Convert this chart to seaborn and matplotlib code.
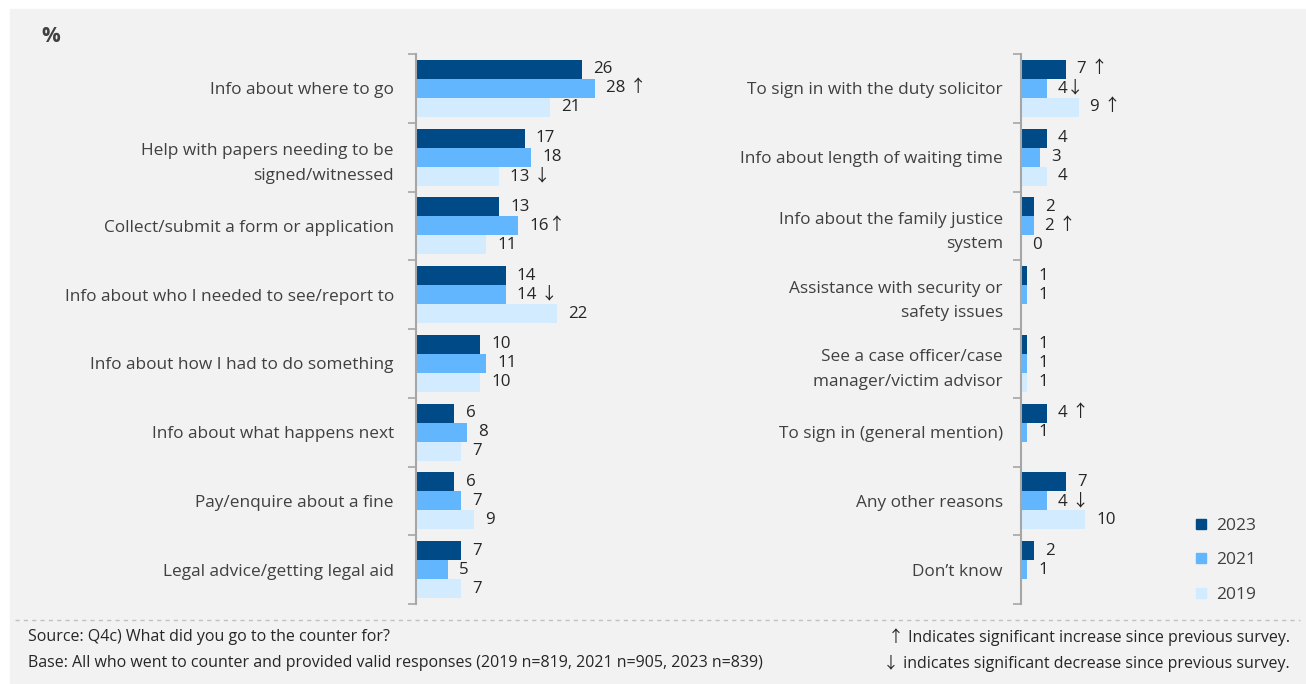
import numpy as np
import pandas as pd
import matplotlib
matplotlib.use("Agg")
import matplotlib.pyplot as plt
from matplotlib.lines import Line2D
from matplotlib.patches import Rectangle
from matplotlib.ticker import FixedLocator
import seaborn as sns

# ---- data -------------------------------------------------------------
years = ["2023", "2021", "2019"]
colors = ["#004b87", "#62b6fd", "#d3ebfe"]

left_cats = [
    "Info about where to go",
    "Help with papers needing to be\nsigned/witnessed",
    "Collect/submit a form or application",
    "Info about who I needed to see/report to",
    "Info about how I had to do something",
    "Info about what happens next",
    "Pay/enquire about a fine",
    "Legal advice/getting legal aid",
]
left_2023 = [26, 17, 13, 14, 10, 6, 6, 7]
left_2021 = [28, 18, 16, 14, 11, 8, 7, 5]
left_2019 = [21, 13, 11, 22, 10, 7, 9, 7]
left_sig_2023 = ["", "", "", "", "", "", "", ""]
left_sig_2021 = [" ↑", "", "↑", " ↓", "", "", "", ""]
left_sig_2019 = ["", " ↓", "", "", "", "", "", ""]

right_cats = [
    "To sign in with the duty solicitor",
    "Info about length of waiting time",
    "Info about the family justice\nsystem",
    "Assistance with security or\nsafety issues",
    "See a case officer/case\nmanager/victim advisor",
    "To sign in (general mention)",
    "Any other reasons",
    "Don\u2019t know",
]
right_2023 = [7, 4, 2, 1, 1, 4, 7, 2]
right_2021 = [4, 3, 2, 1, 1, 1, 4, 1]
right_2019 = [9, 4, 0, np.nan, 1, np.nan, 10, np.nan]
right_sig_2023 = [" ↑", "", "", "", "", " ↑", "", ""]
right_sig_2021 = ["↓", "", " ↑", "", "", "", " ↓", ""]
right_sig_2019 = [" ↑", "", "", "", "", "", "", ""]

source_text = "Source: Q4c) What did you go to the counter for?"
base_text = "Base: All who went to counter and provided valid responses (2019 n=819, 2021 n=905, 2023 n=839)"
note_up = "\u2191 Indicates significant increase since previous survey."
note_down = "\u2193 indicates significant decrease since previous survey."

# ---- style ------------------------------------------------------------
sns.set_style("white")
plt.rcParams["font.family"] = ["Open Sans", "DejaVu Sans"]
ARROW_FAMILY = ["Open Sans", "Noto Sans CJK SC", "DejaVu Sans"]
TXT = "#404040"
VAL = "#262626"
SPINE = "#a6a6a6"
CAT_FS = 12.4
VAL_FS = 12.2

W, H = 1306, 684
fig = plt.figure(figsize=(W / 100, H / 100), dpi=100, facecolor="white")
fig.patches.append(Rectangle((10 / W, 0), 1 - 10 / W, 1 - 9 / H,
                             transform=fig.transFigure, color="#f2f2f2", zorder=-10))

PX_PER_UNIT = 6.4
ax_bottom = 1 - 604 / H
ax_height = 550 / H


def panel(left_px, width_px, cats, vals, sigs, label_pad):
    ax = fig.add_axes([left_px / W, ax_bottom, width_px / W, ax_height])
    ax.set_facecolor("none")
    rows = []
    for yr, series in zip(years, vals):
        for c, v in zip(cats, series):
            if not np.isnan(v):
                rows.append({"category": c, "value": v, "year": yr})
    df = pd.DataFrame(rows)
    sns.barplot(data=df, y="category", x="value", hue="year", order=cats,
                hue_order=years, palette=colors, orient="h", width=0.83,
                saturation=1, legend=False, ax=ax, linewidth=0)
    ax.set_xlim(0, width_px / PX_PER_UNIT)
    ax.set_ylim(len(cats) - 0.5, -0.5)

    # value labels (with significance arrows) taken from the same series
    for cont, series, sig in zip(ax.containers, vals, sigs):
        labels = []
        for bar in cont:
            yc = bar.get_y() + bar.get_height() / 2
            i = int(round(yc))
            v = series[i]
            labels.append("" if np.isnan(v) else f"{v:g}{sig[i]}")
        ax.bar_label(cont, labels=labels, padding=8, fontsize=VAL_FS, color=VAL,
                     family=ARROW_FAMILY)

    ax.set_xlabel("")
    ax.set_ylabel("")
    ax.xaxis.set_visible(False)
    for s in ["top", "right", "bottom"]:
        ax.spines[s].set_visible(False)
    ax.spines["left"].set_color(SPINE)
    ax.spines["left"].set_linewidth(1.5)
    ax.set_yticks(range(len(cats)))
    ax.set_yticklabels(cats, fontsize=CAT_FS, color=TXT, ha="right")
    for lbl in ax.get_yticklabels():
        lbl.set_linespacing(1.7)
    ax.tick_params(axis="y", which="major", length=0, pad=label_pad)
    ax.yaxis.set_minor_locator(FixedLocator(np.arange(-0.5, len(cats), 1.0)))
    ax.tick_params(axis="y", which="minor", length=6, width=1.2, color=SPINE, left=True)
    return ax


ax1 = panel(416, 190, left_cats, [left_2023, left_2021, left_2019],
            [left_sig_2023, left_sig_2021, left_sig_2019], 16)
ax2 = panel(1021, 80, right_cats, [right_2023, right_2021, right_2019],
            [right_sig_2023, right_sig_2021, right_sig_2019], 13)

# legend
handles = [Line2D([], [], marker="s", ls="", color=c, markersize=7.5) for c in colors]
fig.legend(handles, years, loc="upper left", bbox_to_anchor=(1185 / W, 1 - 511 / H),
           frameon=False, fontsize=12.5, labelcolor=TXT, handletextpad=0.4,
           labelspacing=1.05, handlelength=1.0, borderaxespad=0)

# title unit
fig.text(41 / W, 1 - 36 / H, "%", fontsize=15, fontweight="bold", color=TXT, va="center")

# footer
fig.add_artist(Line2D([15 / W, 1300 / W], [1 - 620 / H] * 2, transform=fig.transFigure,
                      ls=(0, (3, 3)), color="#c0c0c0", lw=1))
FOOT_FS = 11.5
fig.text(28 / W, 1 - 637 / H, source_text, fontsize=FOOT_FS, color=VAL, va="center")
fig.text(28 / W, 1 - 663 / H, base_text, fontsize=FOOT_FS, color=VAL, va="center")
fig.text(1290 / W, 1 - 637 / H, note_up, fontsize=FOOT_FS, color=VAL, va="center",
         ha="right", family=ARROW_FAMILY)
fig.text(1290 / W, 1 - 663 / H, note_down, fontsize=FOOT_FS, color=VAL, va="center",
         ha="right", family=ARROW_FAMILY)

fig.savefig("out.png", dpi=100, facecolor=fig.get_facecolor())
